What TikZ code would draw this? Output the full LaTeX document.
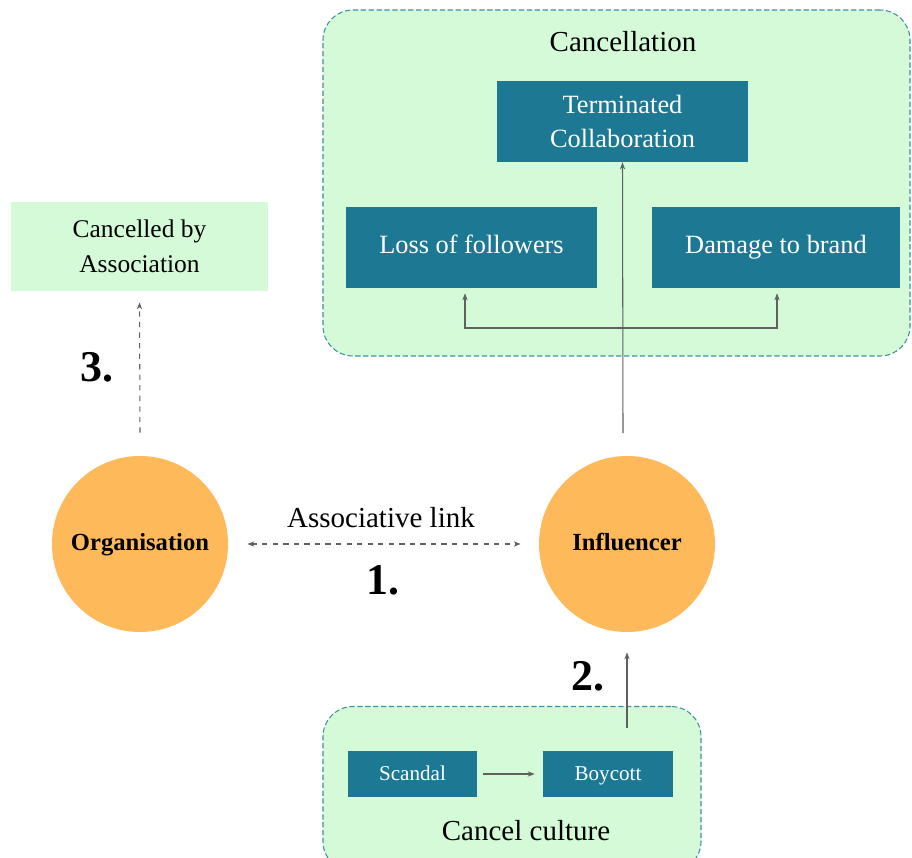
\documentclass[tikz,border=0pt]{standalone}
\usepackage{fontspec}
\setmainfont{Liberation Serif}
\usetikzlibrary{arrows.meta}
\definecolor{boxteal}{HTML}{1C7893}
\definecolor{palegreen}{HTML}{D4FAD8}
\definecolor{circorange}{HTML}{FDB95A}
\definecolor{edgeteal}{HTML}{3F8FA8}
\definecolor{linegray}{HTML}{606060}

\begin{document}
\begin{tikzpicture}[x=0.2mm,y=-0.2mm,
  >={Stealth[length=4pt,width=3pt]},
  area/.style={draw=edgeteal,fill=palegreen,dash pattern=on 3pt off 1.5pt,rounded corners=0.6cm,line width=0.6pt},
  tealbox/.style={fill=boxteal,text=white,inner sep=0pt,minimum height=1.62cm,align=center,font=\fontsize{15}{19.5}\selectfont},
  flat/.style={text height=0.9em,text depth=0.2em},
  orb/.style={circle,fill=circorange,inner sep=0pt,minimum size=3.52cm,flat,font=\fontsize{14}{17}\selectfont\bfseries},
  num/.style={font=\fontsize{25}{30}\selectfont\bfseries},
  lbl/.style={font=\fontsize{16.5}{20}\selectfont},
  arr/.style={draw=linegray,line width=0.6pt,->}]
\useasboundingbox (0,0) rectangle (912,857);
\node[area,minimum width=11.74cm,minimum height=6.92cm] (cancel) at (616.5,183) {};
\node[lbl] (cancellbl) at (623,42) {Cancellation};
\node[tealbox,minimum width=5.02cm] (term) at (622.5,121.5) {Terminated\\Collaboration};
\node[tealbox,flat,minimum width=5.02cm] (loss) at (471.5,247.5) {Loss of followers};
\node[tealbox,flat,minimum width=4.96cm] (damage) at (776,247.5) {Damage to brand};
\node[fill=palegreen,inner sep=0pt,minimum width=5.14cm,minimum height=1.78cm,align=center,font=\fontsize{14.5}{20}\selectfont] (cba) at (139.5,246.5) {Cancelled by\\Association};
\node[orb] (org) at (140,544) {Organisation};
\node[orb] (infl) at (627,544) {Influencer};
\node[area,minimum width=7.56cm,minimum height=3.3cm] (culture) at (512,789) {};
\node[tealbox,flat,minimum width=2.58cm,minimum height=0.92cm,font=\fontsize{12}{14}\selectfont] (scandal) at (412.5,774) {Scandal};
\node[tealbox,flat,minimum width=2.6cm,minimum height=0.92cm,font=\fontsize{12}{14}\selectfont] (boycott) at (608,774) {Boycott};
\node[lbl] (culturelbl) at (526,831) {Cancel culture};
\node[lbl] (assoc) at (381,518) {Associative link};
\node[num] (one) at (383,580) {1.};
\node[num] (two) at (588,676) {2.};
\node[num] (three) at (97,367) {3.};
\coordinate (infltop) at (623,433);
\coordinate (split) at (623,328);
\coordinate (boyout) at (627,728);
\draw[arr] (infltop) -- (term.south);
\draw[arr] (split) -| ([xshift=-0.13cm,yshift=-0.1cm]loss.south);
\draw[arr] (split) -| ([xshift=0.02cm,yshift=-0.1cm]damage.south);
\draw[arr,dashed] ([yshift=0.46cm]org.north) -- ([yshift=-0.22cm]cba.south);
\draw[arr,dashed,<->] ([xshift=0.38cm]org.east) -- ([xshift=-0.36cm]infl.west);
\draw[arr] (boyout) -- ([yshift=-0.4cm]infl.south);
\draw[arr] ([xshift=0.12cm]scandal.east) -- ([xshift=-0.16cm]boycott.west);
\end{tikzpicture}
\end{document}
